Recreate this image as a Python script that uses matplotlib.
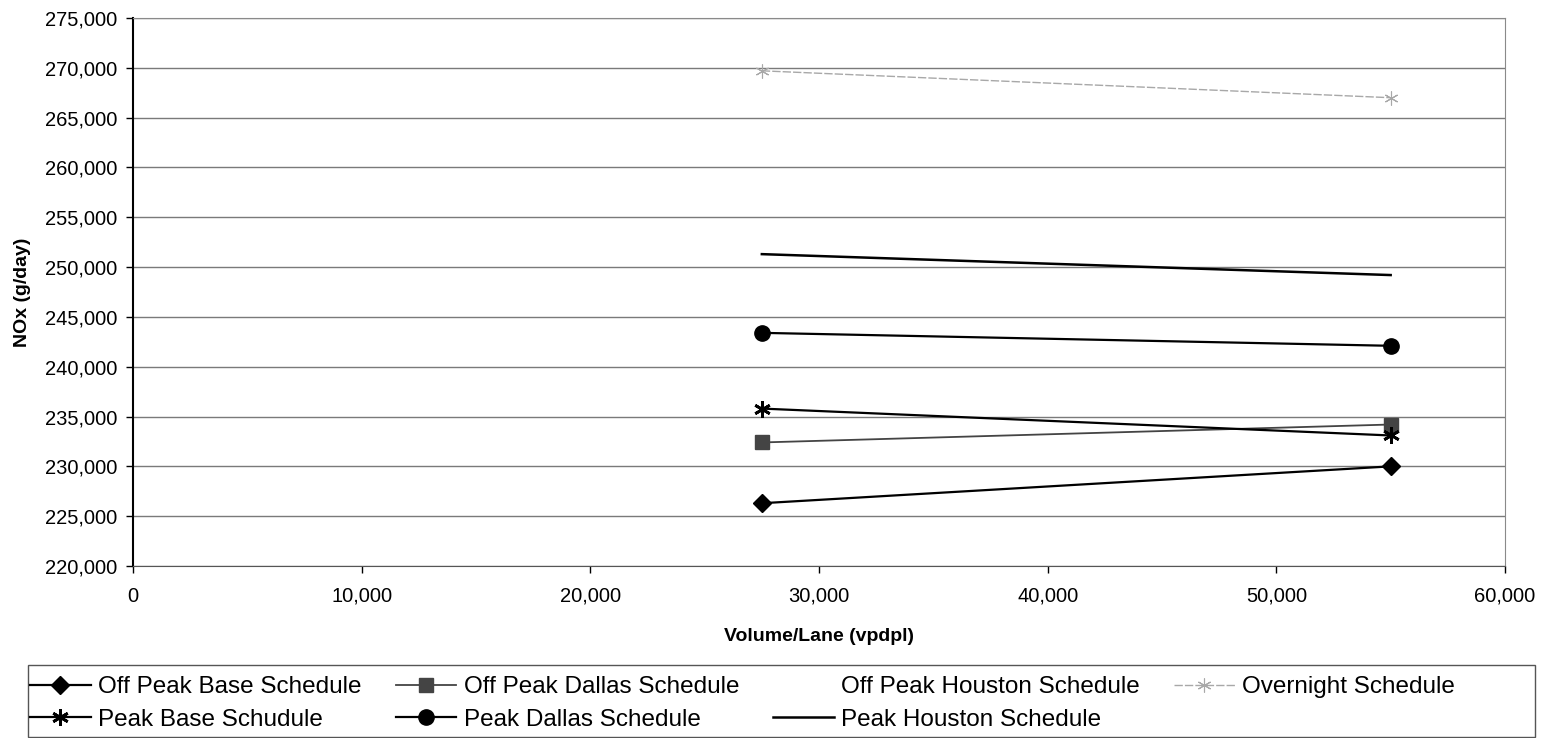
"""NOx vs volume/lane chart for the schedule scenarios."""

import matplotlib

matplotlib.use("Agg")
import matplotlib.pyplot as plt
from matplotlib.patches import Rectangle
from matplotlib.ticker import FuncFormatter, MultipleLocator

plt.rcParams["font.family"] = ["Liberation Sans", "DejaVu Sans"]

# Data
volume = [27500, 55000]
off_peak_base = [226300, 230000]
off_peak_dallas = [232400, 234200]
off_peak_houston = []  # listed in the legend, nothing drawn
overnight = [269700, 267000]
peak_base = [235800, 233100]
peak_dallas = [243400, 242100]
peak_houston = [251300, 249200]

STAR = (6, 2, 0)  # Excel-style six-arm asterisk
W, H = 1543, 738

fig = plt.figure(figsize=(W / 100, H / 100), dpi=100)
ax = fig.add_axes([133 / W, 1 - 566 / H, (1505 - 133) / W, (566 - 18) / H])

h_opb, = ax.plot(volume, off_peak_base, color="black", lw=1.6, marker="D", markersize=9,
                 label="Off Peak Base Schedule")
h_opd, = ax.plot(volume, off_peak_dallas, color="#444444", lw=1.3, marker="s", markersize=10,
                 label="Off Peak Dallas Schedule")
h_oph, = ax.plot(off_peak_houston, off_peak_houston, linestyle="None", marker="None",
                 label="Off Peak Houston Schedule")
h_ovn, = ax.plot(volume, overnight, color="#a8a8a8", lw=1.0, linestyle=(0, (6, 1.5)),
                 marker=STAR, markersize=10, markeredgewidth=0.8, label="Overnight Schedule")
h_pb, = ax.plot(volume, peak_base, color="black", lw=1.6, marker=STAR, markersize=12,
                markeredgewidth=2, label="Peak Base Schudule")
h_pd, = ax.plot(volume, peak_dallas, color="black", lw=1.6, marker="o", markersize=11,
                label="Peak Dallas Schedule")
h_ph, = ax.plot(volume, peak_houston, color="black", lw=1.8, label="Peak Houston Schedule")

ax.set_xlim(0, 60000)
ax.set_ylim(220000, 275000)
ax.xaxis.set_major_locator(MultipleLocator(10000))
ax.yaxis.set_major_locator(MultipleLocator(5000))
comma = FuncFormatter(lambda v, p: f"{int(v):,}")
ax.xaxis.set_major_formatter(comma)
ax.yaxis.set_major_formatter(comma)
ax.tick_params(axis="both", direction="out", length=5, width=1, labelsize=14.5, colors="black")
ax.tick_params(axis="x", pad=10)
ax.tick_params(axis="y", pad=6)

ax.grid(True, axis="y", color="#7a7a7a", lw=1)
ax.set_axisbelow(True)
for side in ("top", "right"):
    ax.spines[side].set_color("#8a8a8a")
    ax.spines[side].set_linestyle((0, (2, 1)))
ax.spines["left"].set_linewidth(1.5)
ax.spines["bottom"].set_color("#555555")

ax.set_xlabel("Volume/Lane (vpdpl)", fontsize=14, fontweight="bold", labelpad=16)
ax.set_ylabel("NOx (g/day)", fontsize=14, fontweight="bold", labelpad=10)

# Legend frame spans wider than the entries, as in the original
fig.patches.append(Rectangle((28 / W, 1 / H), (1535 - 28) / W, (737 - 665) / H,
                             transform=fig.transFigure, fill=False, edgecolor="#555555", lw=1))

# Column-major order so that the rows read like the original legend
handles = [h_opb, h_pb, h_opd, h_pd, h_oph, h_ph, h_ovn]
leg = fig.legend(handles=handles, labels=[h.get_label() for h in handles], ncol=4,
                 loc="center", bbox_to_anchor=(30 / W, 1 - 703.5 / H, 1425 / W, 0),
                 mode="expand", fontsize=17.5, frameon=False, borderpad=0,
                 handlelength=2.5, handletextpad=0.3, labelspacing=0.45, borderaxespad=0)

fig.savefig("out.png", dpi=100, facecolor="white")
